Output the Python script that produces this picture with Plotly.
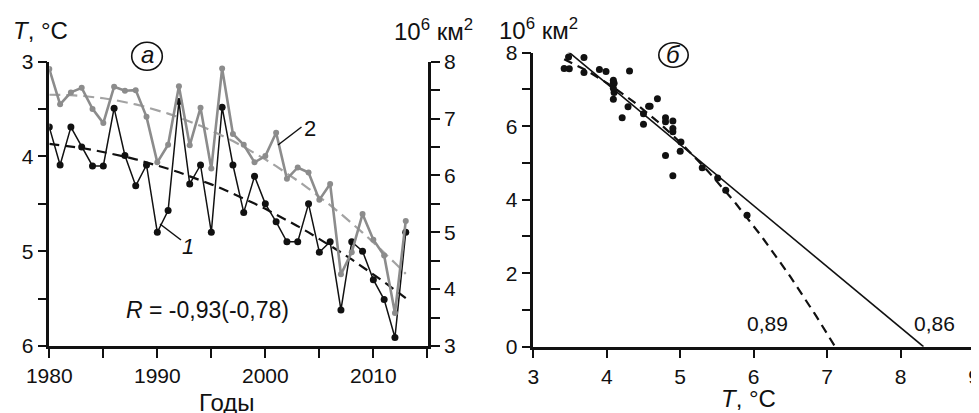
import numpy as np
import plotly.graph_objects as go

# ---------------- data ----------------
years = list(range(1980, 2014))
temp_T = [3.69, 4.09, 3.69, 3.90, 4.10, 4.10, 3.49, 3.99, 4.31, 4.09,
          4.80, 4.57, 3.42, 4.29, 4.09, 4.80, 3.48, 4.09, 4.59, 4.21,
          4.50, 4.69, 4.90, 4.90, 4.50, 5.01, 4.90, 5.62, 4.90, 5.00,
          5.30, 5.51, 5.91, 4.80]
ice_extent = [7.87, 7.25, 7.46, 7.54, 7.17, 6.92, 7.56, 7.49, 7.50, 7.03,
              6.23, 6.54, 7.57, 6.53, 7.19, 6.12, 7.88, 6.73, 6.54, 6.23,
              6.34, 6.75, 5.94, 6.14, 6.05, 5.57, 5.85, 4.26, 4.65, 5.32,
              4.87, 4.59, 3.58, 5.20]

year_ticks = [1980, 1990, 2000, 2010]
t_ticks = [3, 4, 5, 6]
ice_ticks = [3, 4, 5, 6, 7, 8]
sx_ticks = [3, 4, 5, 6, 7, 8, 9]
sy_ticks = [0, 2, 4, 6, 8]

W, H = 979, 413
OFF = 8  # page body margin offset of the plot div
def PX(x):
    return (x - OFF) / W
def PY(y):
    return 1 - (y - OFF) / H

yrs = np.array(years, dtype=float)
T = np.array(temp_T)
S = np.array(ice_extent)

# trends (quadratic fits of the data)
cT = np.polyfit(yrs - 1980, T, 2)
cS = np.polyfit(yrs - 1980, S, 2)
trend_T = np.polyval(cT, yrs - 1980)
trend_S = np.polyval(cS, yrs - 1980)

# regression of extent on temperature
c1 = np.polyfit(T, S, 1)
c2 = np.polyfit(T, S, 2)
root1 = -c1[1] / c1[0]
r2 = np.roots(c2)
r2 = [r.real for r in r2 if abs(r.imag) < 1e-9 and r.real > T.max()]
root2 = min(r2) if r2 else 7.0
xl = np.linspace(T.min() + 0.05, root1, 50)
xq = np.linspace(T.min(), root2, 80)

fig = go.Figure()

BLACK = "#111111"
GRAY = "#8c8c8c"
LGRAY = "#a3a3a3"

fig.add_trace(go.Scatter(x=years, y=trend_S, mode="lines", yaxis="y2", xaxis="x",
                         line=dict(color=LGRAY, width=2.2, dash="11px,6px"), showlegend=False))
fig.add_trace(go.Scatter(x=years, y=ice_extent, mode="lines+markers", yaxis="y2", xaxis="x",
                         line=dict(color=GRAY, width=2.6), marker=dict(color=GRAY, size=6),
                         showlegend=False))
fig.add_trace(go.Scatter(x=years, y=temp_T, mode="lines+markers", xaxis="x", yaxis="y",
                         line=dict(color=BLACK, width=1.5), marker=dict(color=BLACK, size=7),
                         showlegend=False))
fig.add_trace(go.Scatter(x=years, y=trend_T, mode="lines", xaxis="x", yaxis="y",
                         line=dict(color=BLACK, width=2.2, dash="10px,6px"), showlegend=False))

# right panel
fig.add_trace(go.Scatter(x=xl, y=np.polyval(c1, xl), mode="lines", xaxis="x2", yaxis="y3",
                         line=dict(color=BLACK, width=1.6), showlegend=False))
fig.add_trace(go.Scatter(x=xq, y=np.polyval(c2, xq), mode="lines", xaxis="x2", yaxis="y3",
                         line=dict(color=BLACK, width=2.2, dash="9px,6px"), showlegend=False))
fig.add_trace(go.Scatter(x=temp_T, y=ice_extent, mode="markers", xaxis="x2", yaxis="y3",
                         marker=dict(color=BLACK, size=7), showlegend=False))

FONT = "Liberation Sans, Arial, sans-serif"
tickfont = dict(family=FONT, size=21, color=BLACK)

def ax(minor_dtick=None, tick0=None, **kw):
    d = dict(showgrid=False, zeroline=False, showline=True, linecolor=BLACK, linewidth=2.5,
             ticks="outside", ticklen=9, tickwidth=2, tickcolor=BLACK, tickfont=tickfont,
             automargin=False, tickmode="array")
    if minor_dtick is not None:
        d["minor"] = dict(dtick=minor_dtick, tick0=tick0, ticks="outside", ticklen=9,
                          tickwidth=2, tickcolor=BLACK, showgrid=False)
    d.update(kw)
    return d

fig.update_layout(
    width=W, height=H, margin=dict(l=0, r=0, t=0, b=0),
    paper_bgcolor="white", plot_bgcolor="white",
    xaxis=ax(5, 1980, domain=[PX(49.3), PX(428)], range=[1980, 2015.06], anchor="y",
             tickvals=year_ticks),
    yaxis=ax(0.5, 3, domain=[PY(346), PY(61.7)], range=[6, 3], anchor="x",
             tickvals=t_ticks),
    yaxis2=ax(0.5, 3, domain=[PY(346), PY(61.7)], range=[3, 8], anchor="x", overlaying="y",
              side="right", tickvals=ice_ticks),
    xaxis2=ax(None, None, domain=[PX(533.3), PX(974)], range=[3, 9], anchor="y3",
              tickvals=sx_ticks),
    yaxis3=ax(1, 0, domain=[PY(346.7), PY(52.7)], range=[0, 8], anchor="x2",
              tickvals=sy_ticks),
)

def txt(x, y, s, size=22, xanchor="center"):
    fig.add_annotation(x=PX(x), y=PY(y), xref="paper", yref="paper", text=s, showarrow=False,
                       xanchor=xanchor, yanchor="middle",
                       font=dict(family=FONT, size=size, color=BLACK))

txt(11, 30, "<i>T</i>, °C", 24, "left")
txt(392, 30, "10<sup>6</sup> км<sup>2</sup>", 24, "left")
txt(497, 29, "10<sup>6</sup> км<sup>2</sup>", 24, "left")
txt(147, 55, "<i>а</i>", 24)
txt(673.5, 54, "<i>б</i>", 24)
txt(207.5, 310, "<i>R</i> = -0,93(-0,78)", 23)
txt(226, 402, "Годы", 24)
txt(748, 398, "<i>T</i>, °C", 24)
txt(767.5, 323, "0,89", 21)
txt(934.5, 323, "0,86", 21)
txt(187.5, 246, "<i>1</i>", 22)
txt(310, 128.5, "2", 22)

for cx, cy, rx, ry in [(147, 56.3, 15.3, 14.0), (673.5, 55, 14.7, 12.2)]:
    fig.add_shape(type="circle", xref="paper", yref="paper",
                  x0=PX(cx - rx), x1=PX(cx + rx), y0=PY(cy + ry), y1=PY(cy - ry),
                  line=dict(color=BLACK, width=1.6))
for x0, y0, x1, y1 in [(160, 224, 181, 240), (278, 145, 301.5, 127)]:
    fig.add_shape(type="line", xref="paper", yref="paper",
                  x0=PX(x0), y0=PY(y0), x1=PX(x1), y1=PY(y1),
                  line=dict(color=BLACK, width=1.5))

fig.write_html("out.html")
